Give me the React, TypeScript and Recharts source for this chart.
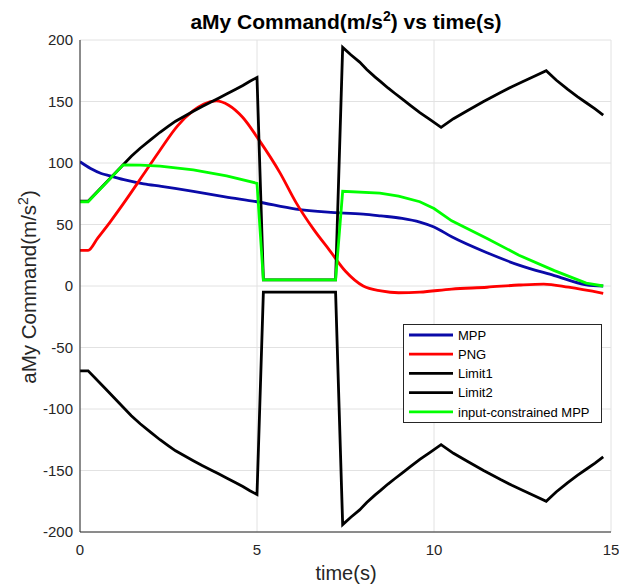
import React from 'react';
import { LineChart, Line, XAxis, YAxis, CartesianGrid } from 'recharts';

// time (s) and command (m/s^2)
const mppTime = [0, 0.3, 0.6, 0.85, 1.3, 1.8, 2.3, 3.2, 4.1, 5.0, 6.1, 7.0, 8.0, 8.5, 9.1, 9.6, 10.0, 10.5, 11.5, 12.4, 13.4, 14.3, 14.78];
const mppValue = [101, 95.5, 91.5, 89.5, 86, 83, 81, 77, 72.5, 68.5, 62.5, 60, 58.5, 57, 55, 52, 48, 40, 27, 17, 8.5, 1, 0];

const pngTime = [0, 0.23, 0.5, 0.85, 1.3, 1.8, 2.25, 2.75, 3.2, 3.5, 3.85, 4.2, 4.6, 5.05, 5.65, 6.1, 6.6, 7.05, 7.5, 8.0, 8.5, 9.0, 9.6, 10.5, 11.5, 12.4, 13.1, 13.8, 14.78];
const pngValue = [29, 29, 39, 52, 70, 91, 110, 130, 142.5, 148, 150.5, 147, 137, 119, 92, 68, 46, 29, 12, 0, -4, -5.5, -5, -2.5, -1, 0.8, 1.6, -1, -6];

const limitTime = [
  0, 0.23, 0.7, 1.22, 1.45, 1.7, 2.0, 2.26, 2.5, 2.7, 2.95, 3.2, 3.45, 3.7, 3.9, 4.14, 4.4, 4.6, 4.8, 5.0,
  5.18, 7.22,
  7.42, 7.65, 7.9, 8.1, 8.33, 8.5, 8.7, 8.9, 9.08, 9.35, 9.6, 9.9, 10.2,
  10.55, 10.94, 11.4, 11.88, 12.2, 12.5, 12.85, 13.17,
  13.45, 13.77, 14.05, 14.3, 14.55, 14.78,
];
const limit1Value = [
  69, 69, 83, 98.5, 105.5, 112, 119, 125, 130, 134, 138, 142, 146, 149.5, 152.5, 156, 160, 163, 166.5, 169.5,
  5, 5,
  194, 188, 182, 176, 170, 166, 161, 156.5, 152.5, 146.5, 141, 135, 129,
  136, 142.5, 150, 157.4, 162, 166, 170.7, 175,
  167.5, 160, 154, 149, 144, 139,
];
const limit2Value = [
  -69, -69, -83, -98.5, -105.5, -112, -119, -125, -130, -134, -138, -142, -146, -149.5, -152.5, -156, -160, -163, -166.5, -169.5,
  -5, -5,
  -194, -188, -182, -176, -170, -166, -161, -156.5, -152.5, -146.5, -141, -135, -129,
  -136, -142.5, -150, -157.4, -162, -166, -170.7, -175,
  -167.5, -160, -154, -149, -144, -139,
];

const icTime = [0, 0.23, 1.22, 1.7, 2.26, 3.2, 4.14, 5.0, 5.18, 7.22, 7.42, 8.47, 9.0, 9.6, 10.0, 10.5, 11.5, 12.4, 13.4, 14.3, 14.78];
const icValue = [68.5, 68.5, 98.5, 98.2, 97.5, 94.5, 89.5, 83.5, 5, 5, 77, 75.5, 73, 68.5, 63, 53, 38.7, 25, 12.5, 2.4, 0];

const xTicks = [0, 5, 10, 15];
const yTicks = [-200, -150, -100, -50, 0, 50, 100, 150, 200];

const toPoints = (ts: number[], vs: number[]) => ts.map((t, i) => ({ t, v: vs[i] }));

const series = [
  { name: 'MPP', color: '#0a0aa8', data: toPoints(mppTime, mppValue), curve: 'monotone' },
  { name: 'PNG', color: '#ff0000', data: toPoints(pngTime, pngValue), curve: 'monotone' },
  { name: 'Limit1', color: '#000000', data: toPoints(limitTime, limit1Value), curve: 'linear' },
  { name: 'Limit2', color: '#000000', data: toPoints(limitTime, limit2Value), curve: 'linear' },
  { name: 'input-constrained MPP', color: '#00ff00', data: toPoints(icTime, icValue), curve: 'linear' },
];

const FONT = '"Liberation Sans", Arial, Helvetica, sans-serif';
const W = 619;
const H = 588;

export default function App() {
  const tickStyle = { fill: '#262626', fontSize: 15, fontFamily: FONT };
  return (
    <div style={{ position: 'relative', width: W, height: H, background: '#fff' }}>
      <style>{'body{margin:0;}'}</style>
      <LineChart width={W} height={H} margin={{ top: 40, right: 8, bottom: 0, left: 0 }}>
        <CartesianGrid stroke="#e2e2e2" strokeWidth={1} />
        <XAxis
          dataKey="t"
          type="number"
          domain={[0, 15]}
          ticks={xTicks}
          allowDataOverflow
          height={56}
          stroke="#262626"
          tickLine={false}
          tickSize={5}
          tickMargin={7}
          tick={tickStyle}
        />
        <YAxis
          type="number"
          domain={[-200, 200]}
          ticks={yTicks}
          allowDataOverflow
          width={80}
          stroke="#262626"
          tickLine={false}
          tickSize={5}
          tickMargin={2}
          tick={tickStyle}
        />
        {series.map((s) => (
          <Line
            key={s.name}
            data={s.data}
            dataKey="v"
            name={s.name}
            type={s.curve as 'monotone' | 'linear'}
            stroke={s.color}
            strokeWidth={2.8}
            dot={false}
            activeDot={false}
            isAnimationActive={false}
          />
        ))}
      </LineChart>
      <svg
        width={W}
        height={H}
        style={{ position: 'absolute', left: 0, top: 0, pointerEvents: 'none' }}
        fontFamily={FONT}
      >
        <text x={346} y={29} textAnchor="middle" fontSize={21} fontWeight="bold" fill="#000">
          aMy Command(m/s<tspan dy={-8} fontSize={14}>2</tspan>
          <tspan dy={8}>) vs time(s)</tspan>
        </text>
        <text x={346} y={580} textAnchor="middle" fontSize={20} fill="#262626">
          time(s)
        </text>
        <text
          transform="translate(36,287) rotate(-90)"
          textAnchor="middle"
          fontSize={20.5}
          fill="#262626"
        >
          aMy Command(m/s<tspan dy={-8} fontSize={14}>2</tspan>
          <tspan dy={8}>)</tspan>
        </text>
        <g>
          <rect x={403.5} y={324.5} width={198} height={98} fill="#fff" stroke="#262626" strokeWidth={1} />
          {series.map((s, i) => {
            const cy = 335 + i * 19.2;
            return (
              <g key={s.name}>
                <line x1={409} x2={453} y1={cy} y2={cy} stroke={s.color} strokeWidth={2.8} />
                <text x={458} y={cy + 4.7} fontSize={13} fill="#000">
                  {s.name}
                </text>
              </g>
            );
          })}
        </g>
      </svg>
    </div>
  );
}
